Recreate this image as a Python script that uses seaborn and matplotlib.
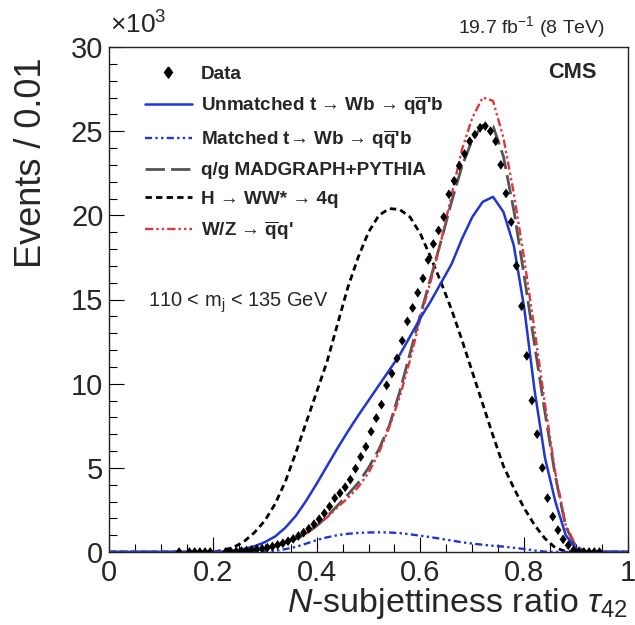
import numpy as np
import pandas as pd
import matplotlib
matplotlib.use("Agg")
import matplotlib.pyplot as plt
from matplotlib.lines import Line2D
from matplotlib.markers import MarkerStyle
from matplotlib.ticker import MultipleLocator, FuncFormatter
import seaborn as sns

sns.set_style("ticks")
plt.rcParams["font.family"] = ["Liberation Sans", "DejaVu Sans"]
plt.rcParams["mathtext.fontset"] = "custom"
plt.rcParams["mathtext.rm"] = "Liberation Sans"
plt.rcParams["mathtext.it"] = "Liberation Sans:italic"
plt.rcParams["mathtext.bf"] = "Liberation Sans:bold"

# ---- simulated shapes, events per 0.01 in units of 10^3, on a 0.02 grid ----
tau_grid = np.round(np.arange(0.0, 1.0001, 0.02), 2)

hww = [0] * 11 + [
    0.1, 0.28, 0.62, 1.15, 1.85, 2.85, 4.2, 5.9, 7.7, 9.5,
    11.3, 13.5, 15.7, 17.5, 19.0, 20.0, 20.4, 20.35, 19.9, 18.9,
    17.5, 16.0, 14.4, 12.6, 10.7, 8.8, 6.9, 5.1, 3.8, 2.6,
    1.6, 0.8, 0.25, 0.03] + [0] * 6

top_unmatched = [0] * 12 + [
    0.08, 0.18, 0.34, 0.58, 0.92, 1.45, 2.15, 3.05, 4.05, 5.1,
    6.15, 7.15, 8.1, 9.0, 9.9, 10.8, 11.7, 12.8, 13.9, 14.9,
    16.0, 17.1, 18.6, 19.9, 20.8, 21.1, 20.2, 18.2, 14.5, 9.6,
    5.6, 3.0, 1.0, 0.2, 0.03] + [0] * 4

top_matched = [0] * 15 + [
    0.02, 0.07, 0.17, 0.3, 0.5, 0.71, 0.87, 1.0, 1.08, 1.13,
    1.16, 1.17, 1.16, 1.12, 1.05, 0.97, 0.88, 0.78, 0.68, 0.58,
    0.5, 0.43, 0.37, 0.32, 0.25, 0.18, 0.09, 0.02] + [0] * 8

qcd_mg = [0] * 14 + [
    0.1, 0.23, 0.35, 0.55, 0.78, 1.1, 1.55, 2.1, 2.75, 3.4,
    4.1, 5.0, 6.1, 7.5, 9.5, 11.8, 14.1, 16.3, 18.5, 20.8,
    22.9, 24.5, 25.35, 25.3, 23.5, 20.3, 16.4, 12.3, 8.3, 4.5,
    1.5, 0.3, 0.03] + [0] * 4

wz_qq = [0] * 14 + [
    0.1, 0.23, 0.36, 0.56, 0.8, 1.1, 1.55, 2.05, 2.65, 3.2,
    3.85, 4.7, 5.9, 7.4, 9.2, 11.4, 13.9, 16.1, 18.5, 21.2,
    23.9, 25.8, 27.0, 26.8, 24.6, 21.3, 17.4, 13.2, 8.8, 4.7,
    1.6, 0.35, 0.03] + [0] * 4

# ---- data, bin centres of 0.01-wide bins, in units of 10^3 events ----
data_tau = [0.135, 0.155, 0.165, 0.175, 0.185, 0.195] + \
    list(np.round(np.arange(0.225, 0.9451, 0.01), 3))
data_events = [0] * 6 + [
    0.01, 0.02, 0.04, 0.06, 0.09, 0.12, 0.16, 0.2, 0.26, 0.33,
    0.42, 0.52, 0.64, 0.78, 0.95, 1.15, 1.38, 1.65, 1.95, 2.3,
    2.7, 3.2, 3.5, 3.85, 4.3, 4.95, 5.65, 6.25, 7.15, 7.95,
    8.75, 9.9, 10.6, 11.5, 12.55, 13.7, 14.5, 15.4, 16.25, 17.35,
    18.3, 19.1, 19.9, 21.25, 22.05, 22.95, 23.65, 24.4, 24.8, 25.2,
    25.3, 25.0, 24.4, 23.0, 21.3, 19.6, 17.0, 14.6, 11.65, 9.0,
    7.0, 5.0, 3.2, 2.1, 1.3, 0.75, 0.4, 0.1, 0, 0,
    0, 0, 0]

x_ticks = [0, 0.2, 0.4, 0.6, 0.8, 1.0]
y_ticks = [0, 5, 10, 15, 20, 25, 30]

BLUE = "#1f35d6"
RED = "#e0353a"
GRAY = "#555555"

legend_labels = [
    "Data",
    "Unmatched t \u2192 Wb \u2192 q$\\overline{\\mathbf{q}}$'b",
    "Matched t\u2192 Wb \u2192 q$\\overline{\\mathbf{q}}$'b",
    "q/g MADGRAPH+PYTHIA",
    "H \u2192 WW* \u2192 4q",
    "W/Z \u2192 $\\overline{\\mathbf{q}}$q'",
]

diamond = MarkerStyle([(0, 1), (0.72, 0), (0, -1), (-0.72, 0), (0, 1)])

styles = {
    "hww": dict(color="black", lw=2.0, ls=(0, (2.3, 1.5))),
    "qcd": dict(color=GRAY, lw=2.0, ls=(0, (7, 2.2))),
    "wz": dict(color=RED, lw=1.7, ls=(0, (3.5, 1.3, 1, 1.3, 1, 1.3))),
    "unm": dict(color=BLUE, lw=1.8, ls="-"),
    "mat": dict(color=BLUE, lw=1.7, ls=(0, (3, 1.4, 1, 1.4, 1, 1.4))),
}

curves = pd.DataFrame({
    "tau": np.tile(tau_grid, 5),
    "events": hww + qcd_mg + wz_qq + top_unmatched + top_matched,
    "sample": np.repeat(["hww", "qcd", "wz", "unm", "mat"], len(tau_grid)),
})
data_df = pd.DataFrame({"tau": data_tau, "events": data_events})

fig = plt.figure(figsize=(6.35, 6.25), dpi=100)
fig.patch.set_facecolor("white")
ax = fig.add_axes([109 / 635, 73 / 625, 519 / 635, 505 / 625])

for name in ["hww", "qcd", "wz", "unm", "mat"]:
    st = styles[name]
    sub = curves[curves["sample"] == name]
    sns.lineplot(data=sub, x="tau", y="events", ax=ax, color=st["color"],
                 linewidth=st["lw"], linestyle=st["ls"], estimator=None,
                 sort=False, legend=False, zorder=3)

sns.scatterplot(data=data_df, x="tau", y="events", ax=ax, marker=diamond,
                s=50, color="black", edgecolor="none", linewidth=0,
                legend=False, zorder=5)

ax.set_xlim(0, 1)
ax.set_ylim(0, 30)
ax.set_xlabel("")
ax.set_ylabel("")
ax.set_xticks(x_ticks)
ax.set_yticks(y_ticks)
ax.xaxis.set_minor_locator(MultipleLocator(0.05))
ax.yaxis.set_minor_locator(MultipleLocator(1))
ax.xaxis.set_major_formatter(FuncFormatter(lambda v, p: f"{v:g}"))
ax.yaxis.set_major_formatter(FuncFormatter(lambda v, p: f"{v:g}"))
ax.tick_params(which="both", direction="in", top=False, right=False,
               width=0.8, color="black")
ax.tick_params(which="major", length=10.8, labelsize=21)
ax.tick_params(which="minor", length=6)
ax.tick_params(axis="x", which="major", pad=5)
ax.tick_params(axis="y", which="major", pad=4)
for sp in ax.spines.values():
    sp.set_visible(True)
    sp.set_linewidth(1.0)
    sp.set_color("#222222")

handles = [Line2D([], [], marker=diamond, ls="none", color="black",
                  markersize=8)]
for name in ["unm", "mat", "qcd", "hww", "wz"]:
    st = styles[name]
    handles.append(Line2D([], [], color=st["color"], lw=st["lw"], ls=st["ls"]))
leg = ax.legend(handles, legend_labels, loc="upper left",
                bbox_to_anchor=(0.069, 0.963), frameon=False, borderpad=0,
                borderaxespad=0, handlelength=2.5, handletextpad=0.45,
                labelspacing=0.6, prop={"size": 13.6, "weight": "bold"})

fig.text(628 / 635, (625 - 612) / 625, r"$N$-subjettiness ratio $\tau_{42}$",
         ha="right", va="baseline", fontsize=24.5)
fig.text(32 / 635, (625 - 57) / 625, "Events / 0.01", rotation=90,
         ha="center", va="top", fontsize=26)
fig.text(110 / 635, (625 - 34) / 625, r"$\times$10$^{3}$", ha="left",
         va="baseline", fontsize=19)
fig.text(605 / 635, (625 - 33) / 625, r"19.7 fb$^{-1}$ (8 TeV)", ha="right",
         va="baseline", fontsize=14)
ax.text(0.94, (552 - 78) / 505, "CMS", transform=ax.transAxes, ha="right",
        va="baseline", fontsize=15.7, fontweight="bold")
ax.text((148 - 109) / 519, (552 - 307) / 505, r"110 < m$_{\mathrm{j}}$ < 135 GeV",
        transform=ax.transAxes, ha="left", va="baseline", fontsize=14.4)

fig.savefig("out.png", dpi=100, facecolor="white")
